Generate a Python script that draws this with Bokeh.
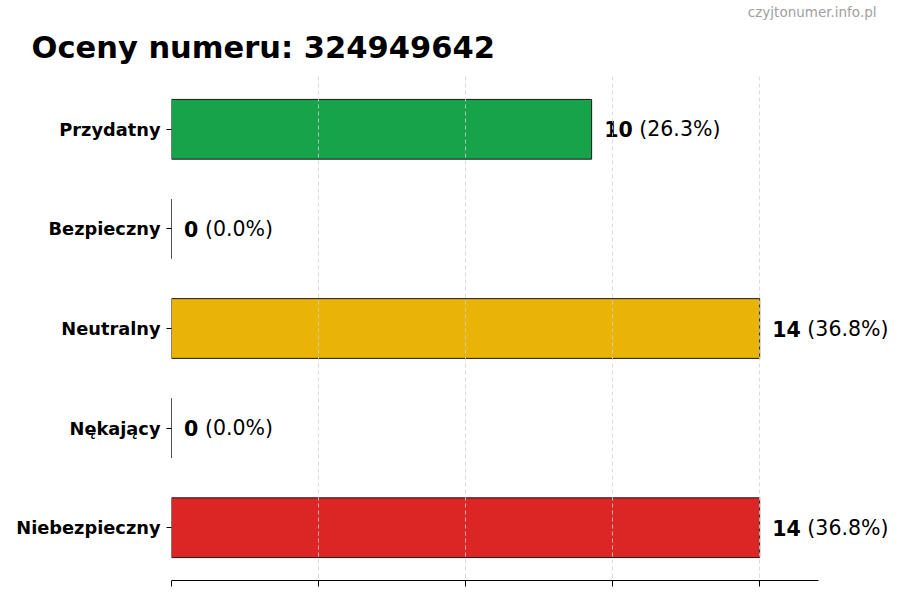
from bokeh.plotting import figure
from bokeh.models import Range1d, FixedTicker, ColumnDataSource, Title
from bokeh.embed import file_html
from bokeh.resources import INLINE
from bokeh.core.properties import value

title_text = "Oceny numeru: 324949642"
watermark = "czyjtonumer.info.pl"
categories = ["Przydatny", "Bezpieczny", "Neutralny", "Nękający", "Niebezpieczny"]
counts = [10, 0, 14, 0, 14]
percents = [26.3, 0.0, 36.8, 0.0, 36.8]
colors = ["#16a34a", "#16a34a", "#eab308", "#dc2626", "#dc2626"]
x_ticks = [0, 3.5, 7, 10.5, 14]

FONT = "DejaVu Sans"
FS = 20.5

pos = list(range(len(categories)))
bold_txt = [str(c) for c in counts]
rest_txt = ["(%.1f%%)" % p for p in percents]
offsets = [len(b) * 0.696 * FS + 0.318 * FS for b in bold_txt]
src = ColumnDataSource(dict(y=pos, right=counts, color=colors,
                            lx=[c + 0.3 for c in counts],
                            bold=bold_txt, rest=rest_txt, off=offsets))

W, H = 900, 600
LEFT, TOP, BOTTOM = 171, 76, 580
axis_max = max(counts) * 1.1
px_per_unit = (818 - LEFT) / axis_max
xmax = (W - LEFT) / px_per_unit

p = figure(width=W, height=H, output_backend="svg", toolbar_location=None,
           x_range=Range1d(0, xmax), y_range=Range1d(len(categories) - 1 + 0.53, -0.53),
           min_border_left=LEFT, min_border_right=0, min_border_top=TOP,
           min_border_bottom=H - BOTTOM)
p.title = None
p.outline_line_color = None
p.background_fill_color = "white"
p.border_fill_color = "white"

main_title = Title(text=title_text, align="left", offset=31 - LEFT, text_font=FONT,
                   text_font_style="bold", text_font_size="30.5px", text_color="black",
                   standoff=20, vertical_align="top")
wm = Title(text=watermark, align="right", offset=24, text_font=FONT,
           text_font_style="normal", text_font_size="13.5px", text_color="#a0a0a0",
           standoff=0)
p.add_layout(main_title, "above")
p.add_layout(wm, "above")

p.hbar(y="y", right="right", left=0, height=0.6, fill_color="color",
       line_color="#1a1a1a", line_width=1, source=src)

p.text(x="lx", y="y", text="bold", source=src, text_font=value(FONT),
       text_font_style="bold", text_font_size="%.1fpx" % FS,
       text_baseline="middle", text_align="left", text_color="black")
p.text(x="lx", y="y", text="rest", source=src, x_offset="off", text_font=value(FONT),
       text_font_size="%.1fpx" % FS,
       text_baseline="middle", text_align="left", text_color="black")

# axes
p.xaxis.ticker = FixedTicker(ticks=x_ticks)
p.xaxis.bounds = (0, axis_max)
p.xaxis.major_label_overrides = {t: "" for t in x_ticks}
p.xaxis.major_tick_out = 6
p.xaxis.major_tick_in = 0
p.xaxis.minor_tick_line_color = None
p.xaxis.axis_line_color = "black"
p.xaxis.major_tick_line_color = "black"

p.yaxis.ticker = FixedTicker(ticks=pos)
p.yaxis.major_label_overrides = {i: c for i, c in enumerate(categories)}
p.yaxis.major_label_text_font = FONT
p.yaxis.major_label_text_font_style = "bold"
p.yaxis.major_label_text_font_size = "17.8px"
p.yaxis.major_label_text_color = "black"
p.yaxis.axis_line_color = None
p.yaxis.major_tick_out = 5
p.yaxis.major_tick_in = 0
p.yaxis.minor_tick_line_color = None
p.yaxis.major_label_standoff = 6

p.ygrid.grid_line_color = None
p.xgrid.ticker = FixedTicker(ticks=x_ticks)
p.xgrid.grid_line_color = "#d0d0d0"
p.xgrid.grid_line_dash = "4 3"
p.xgrid.grid_line_width = 0.8
p.xgrid.level = "overlay"

open("out.html", "w").write(file_html(p, INLINE))
